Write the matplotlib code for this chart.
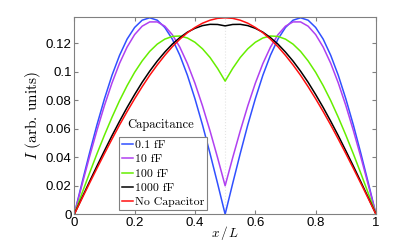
import matplotlib
matplotlib.use("Agg")
import matplotlib.pyplot as plt

# position along the line, x/L
x = [0.0, 0.025, 0.05, 0.075, 0.1, 0.125, 0.15, 0.175, 0.2, 0.225,
     0.25, 0.275, 0.3, 0.325, 0.35, 0.375, 0.4, 0.425, 0.45, 0.475,
     0.5, 0.525, 0.55, 0.575, 0.6, 0.625, 0.65, 0.675, 0.7, 0.725,
     0.75, 0.775, 0.8, 0.825, 0.85, 0.875, 0.9, 0.925, 0.95, 0.975, 1.0]

# current amplitude
i_01fF = [0.0, 0.0216, 0.0426, 0.0627, 0.0811, 0.0976, 0.1116, 0.1230, 0.1312, 0.1363,
          0.1380, 0.1363, 0.1312, 0.1230, 0.1116, 0.0976, 0.0811, 0.0627, 0.0426, 0.0216,
          0.0, 0.0216, 0.0426, 0.0627, 0.0811, 0.0976, 0.1116, 0.1230, 0.1312, 0.1363,
          0.1380, 0.1363, 0.1312, 0.1230, 0.1116, 0.0976, 0.0811, 0.0627, 0.0426, 0.0216, 0.0]
i_10fF = [0.0, 0.0202, 0.0400, 0.0588, 0.0764, 0.0922, 0.1060, 0.1174, 0.1262, 0.1321,
          0.1351, 0.1351, 0.1321, 0.1261, 0.1173, 0.1058, 0.0920, 0.0761, 0.0585, 0.0397,
          0.0200, 0.0397, 0.0585, 0.0761, 0.0920, 0.1058, 0.1173, 0.1261, 0.1321, 0.1351,
          0.1351, 0.1321, 0.1262, 0.1174, 0.1060, 0.0922, 0.0764, 0.0588, 0.0400, 0.0202, 0.0]
i_100fF = [0.0, 0.0144, 0.0286, 0.0424, 0.0556, 0.0681, 0.0798, 0.0903, 0.0997, 0.1077,
           0.1144, 0.1195, 0.1230, 0.1249, 0.1252, 0.1238, 0.1208, 0.1162, 0.1101, 0.1024,
           0.0935, 0.1024, 0.1101, 0.1162, 0.1208, 0.1238, 0.1252, 0.1249, 0.1230, 0.1195,
           0.1144, 0.1077, 0.0997, 0.0903, 0.0798, 0.0681, 0.0556, 0.0424, 0.0286, 0.0144, 0.0]
i_1000fF = [0.0, 0.0114, 0.0227, 0.0338, 0.0446, 0.0552, 0.0653, 0.0750, 0.0841, 0.0927,
            0.1005, 0.1076, 0.1139, 0.1195, 0.1241, 0.1279, 0.1306, 0.1325, 0.1334, 0.1333,
            0.1323, 0.1333, 0.1334, 0.1325, 0.1306, 0.1279, 0.1241, 0.1195, 0.1139, 0.1076,
            0.1005, 0.0927, 0.0841, 0.0750, 0.0653, 0.0552, 0.0446, 0.0338, 0.0227, 0.0114, 0.0]
i_nocap = [0.0, 0.0108, 0.0216, 0.0322, 0.0426, 0.0528, 0.0627, 0.0721, 0.0811, 0.0896,
           0.0976, 0.1049, 0.1116, 0.1177, 0.1230, 0.1275, 0.1312, 0.1342, 0.1363, 0.1376,
           0.1380, 0.1376, 0.1363, 0.1342, 0.1312, 0.1275, 0.1230, 0.1177, 0.1116, 0.1049,
           0.0976, 0.0896, 0.0811, 0.0721, 0.0627, 0.0528, 0.0426, 0.0322, 0.0216, 0.0108, 0.0]

labels = ["0.1 fF", "10 fF", "100 fF", "1000 fF", "No Capacitor"]
colors = ["#3050ff", "#b040f0", "#66ee00", "#000000", "#ff1010"]
series = [i_01fF, i_10fF, i_100fF, i_1000fF, i_nocap]

xticks = [0, 0.2, 0.4, 0.6, 0.8, 1]
xticklabels = ["0", "0.2", "0.4", "0.6", "0.8", "1"]
yticks = [0, 0.02, 0.04, 0.06, 0.08, 0.1, 0.12]
yticklabels = ["0", "0.02", "0.04", "0.06", "0.08", "0.1", "0.12"]

plt.rcParams["mathtext.fontset"] = "cm"
serif = "cmr10"

fig = plt.figure(figsize=(4.15, 2.41), dpi=100)
ax = fig.add_axes([0.179, 0.111, 0.727, 0.817])

ax.axvline(0.5, color="#e4e4e4", linestyle=":", linewidth=0.8, zorder=0)

for ys, lab, col in zip(series, labels, colors):
    ax.plot(x, ys, color=col, linewidth=1.1, label=lab)

ax.set_xlim(0, 1)
ax.set_ylim(0, 0.1383)
ax.set_xticks(xticks)
ax.set_xticklabels(xticklabels, family="Liberation Sans")
ax.set_yticks(yticks)
ax.set_yticklabels(yticklabels, family="Liberation Sans")
ax.tick_params(direction="in", length=3, width=0.8, color="#808080",
               labelsize=9.5, top=True, right=True, pad=2)
for s in ax.spines.values():
    s.set_color("#808080")
    s.set_linewidth(0.8)

ax.set_xlabel(r"$x\,/\,L$", fontsize=9.5)
ax.xaxis.set_label_coords(0.5, -0.05)
ax.set_ylabel(r"$I$ (arb. units)", fontsize=11, family=serif)
ax.yaxis.set_label_coords(-0.105, 0.5)

leg = ax.legend(loc="lower left", bbox_to_anchor=(0.148, 0.022), borderaxespad=0,
                prop={"family": serif, "size": 8.5}, handlelength=0.9,
                handletextpad=0.2, borderpad=0.25, labelspacing=0.33,
                fancybox=False, framealpha=1, edgecolor="#808080")
leg.get_frame().set_linewidth(0.8)
ax.text(0.285, 0.452, "Capacitance", transform=ax.transAxes, ha="center",
        va="center", family=serif, fontsize=9)

fig.savefig("out.png", dpi=100)
